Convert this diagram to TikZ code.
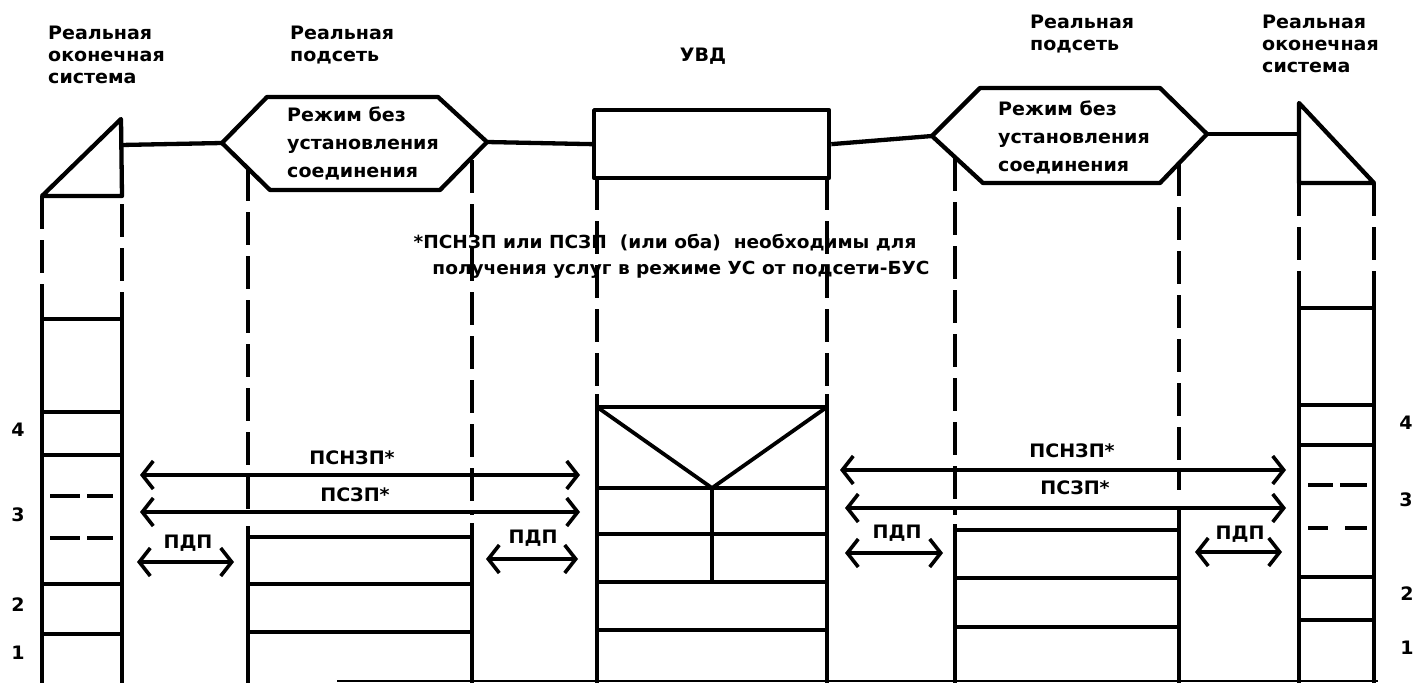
\documentclass[tikz,border=0pt]{standalone}
\usepackage{fontspec}
\setmainfont{DejaVu Sans Bold}[FakeStretch=1.03]
\usetikzlibrary{arrows.meta}
\begin{document}
\begin{tikzpicture}[x=1pt,y=-1pt,
  ln/.style={line width=4.3pt,line join=round},
  thin/.style={line width=3.8pt},
  dsh/.style={line width=4.4pt,dash pattern=on 33pt off 11pt},
  sdash/.style={line width=3.6pt},
  arr/.style={line width=3.6pt,{Straight Barb[length=11pt,width=28pt]}-{Straight Barb[length=11pt,width=28pt]}},
  lab/.style={font=\fontsize{18.5}{28}\selectfont,inner sep=0pt,align=left},
  fnote/.style={font=\fontsize{18}{22}\selectfont,inner sep=0pt,align=left},
  top/.style={font=\fontsize{18.5}{22}\selectfont,inner sep=0pt,align=left},
  num/.style={font=\fontsize{18.5}{20}\selectfont,inner sep=0pt}]
\useasboundingbox (0,0) rectangle (1421,683);

% ---------- top labels
\node[top,anchor=north west] (lbl1) at (48,26) {Реальная\\оконечная\\система};
\node[top,anchor=north west] (lbl2) at (290,26) {Реальная\\подсеть};
\node[top,anchor=center] (lbl3) at (703,56) {УВД};
\node[top,anchor=north west] (lbl4) at (1030,15) {Реальная\\подсеть};
\node[top,anchor=north west] (lbl5) at (1262,15) {Реальная\\оконечная\\система};

% ---------- left end system (triangle)
\coordinate (tlA) at (42,196);
\coordinate (tlT) at (121,119);
\coordinate (tlB) at (122,196);
\coordinate (tlM) at (121,145);
\draw[ln] (tlA) -- (tlT) -- (tlB) -- cycle;

% ---------- left subnet hexagon
\coordinate (h1L) at (222,143);
\coordinate (h1TL) at (267,97);
\coordinate (h1TR) at (438,97);
\coordinate (h1R) at (487,142);
\coordinate (h1BR) at (440,190);
\coordinate (h1BL) at (270,190);
\draw[ln] (h1L) -- (h1TL) -- (h1TR) -- (h1R) -- (h1BR) -- (h1BL) -- cycle;
\node[lab,anchor=north west] (hx1) at (287,107) {Режим без\\установления\\соединения};

% ---------- UVD box
\node[draw,ln,anchor=north west,minimum width=235pt,minimum height=68pt,inner sep=0pt] (uvd) at (592,108) {};

% ---------- right subnet hexagon
\coordinate (h2L) at (932,136);
\coordinate (h2TL) at (980,88);
\coordinate (h2TR) at (1160,88);
\coordinate (h2R) at (1207,134);
\coordinate (h2BR) at (1160,183);
\coordinate (h2BL) at (983,183);
\draw[ln] (h2L) -- (h2TL) -- (h2TR) -- (h2R) -- (h2BR) -- (h2BL) -- cycle;
\node[lab,anchor=north west] (hx2) at (998,101) {Режим без\\установления\\соединения};

% ---------- right end system (triangle)
\coordinate (trT) at (1299,103);
\coordinate (trA) at (1299,183);
\coordinate (trB) at (1374,183);
\coordinate (trM) at (1299,134);
\draw[ln] (trT) -- (trB) -- (trA) -- cycle;

% ---------- connecting lines
\draw[ln] (tlM) -- (h1L);
\draw[ln] (h1R) -- (uvd.west);
\draw[ln] (uvd.east) -- (h2L);
\draw[ln] (h2R) -- (trM);

% ---------- footnote
\node[fnote,anchor=center] (fn1) at (665,243) {*ПСНЗП или ПСЗП\ \ (или оба)\ \ необходимы для};
\node[fnote,anchor=center] (fn2) at (681,270) {получения услуг в режиме УС от подсети-БУС};

% ---------- left end-system stack
\draw[dsh] (42,196) -- (42,290);
\draw[ln] (42,288) -- (42,683);
\draw[dsh] (122,204) -- (122,293);
\draw[ln] (122,293) -- (122,683);
\foreach \yy in {319,412,455,584,634} \draw[thin] (42,\yy) -- (122,\yy);
\foreach \yy in {496,538} {\draw[sdash] (50,\yy) -- (80,\yy); \draw[sdash] (87,\yy) -- (113,\yy);}
\node[num] (n4l) at (18,430) {4};
\node[num] (n3l) at (18,515) {3};
\node[num] (n2l) at (18,605) {2};
\node[num] (n1l) at (18,653) {1};

% ---------- left subnet stack
\draw[dsh] (248,168) -- (248,515);
\draw[ln] (248,526) -- (248,683);
\draw[dsh] (472,160) -- (472,515);
\draw[ln] (472,523) -- (472,683);
\foreach \yy in {537,584,632} \draw[thin] (248,\yy) -- (472,\yy);

% ---------- UVD stack
\draw[dsh] (597,177) -- (597,398);
\draw[ln] (597,394) -- (597,683);
\draw[dsh] (827,177) -- (827,398);
\draw[ln] (827,394) -- (827,683);
\coordinate (vL) at (597,407);
\coordinate (vR) at (827,407);
\coordinate (vM) at (712,488);
\coordinate (vB) at (712,582);
\draw[thin] (vL) -- (vR);
\draw[thin] (vL) -- (vM) -- (vR);
\draw[thin] (vM) -- (vB);
\foreach \yy in {488,534,582,630} \draw[thin] (597,\yy) -- (827,\yy);

% ---------- right subnet stack
\draw[dsh] (955,158) -- (955,515);
\draw[ln] (955,524) -- (955,683);
\draw[dsh] (1179,163) -- (1179,490);
\draw[ln] (1179,506) -- (1179,683);
\foreach \yy in {530,578,627} \draw[thin] (955,\yy) -- (1179,\yy);

% ---------- right end-system stack
\draw[dsh] (1299,183) -- (1299,285);
\draw[ln] (1299,285) -- (1299,683);
\draw[dsh] (1374,183) -- (1374,300);
\draw[ln] (1374,300) -- (1374,683);
\foreach \yy in {308,405,445,577,620} \draw[thin] (1299,\yy) -- (1374,\yy);
\draw[sdash] (1308,485) -- (1333,485); \draw[sdash] (1340,485) -- (1367,485);
\draw[sdash] (1308,528) -- (1328,528); \draw[sdash] (1345,528) -- (1367,528);
\node[num] (n4r) at (1406,423) {4};
\node[num] (n3r) at (1406,500) {3};
\node[num] (n2r) at (1407,594) {2};
\node[num] (n1r) at (1407,648) {1};

% ---------- bottom line
\draw[line width=2.5pt] (337,681) -- (1378,681);

% ---------- arrows, left half
\coordinate (a1s) at (140,475); \coordinate (a1e) at (580,475);
\coordinate (a2s) at (140,512); \coordinate (a2e) at (580,512);
\coordinate (a3s) at (137,562); \coordinate (a3e) at (234,562);
\coordinate (a4s) at (486,559); \coordinate (a4e) at (578,559);
\draw[arr] (a1s) -- (a1e);
\draw[arr] (a2s) -- (a2e);
\draw[arr] (a3s) -- (a3e);
\draw[arr] (a4s) -- (a4e);
\node[lab] (t1) at (352,458) {ПСНЗП*};
\node[lab] (t2) at (355,495) {ПСЗП*};
\node[lab] (t3) at (188,543) {ПДП};
\node[lab] (t4) at (533,538) {ПДП};

% ---------- arrows, right half
\coordinate (b1s) at (840,470); \coordinate (b1e) at (1286,470);
\coordinate (b2s) at (845,508); \coordinate (b2e) at (1286,508);
\coordinate (b3s) at (845,553); \coordinate (b3e) at (943,553);
\coordinate (b4s) at (1195,552); \coordinate (b4e) at (1282,552);
\draw[arr] (b1s) -- (b1e);
\draw[arr] (b2s) -- (b2e);
\draw[arr] (b3s) -- (b3e);
\draw[arr] (b4s) -- (b4e);
\node[lab] (u1) at (1072,451) {ПСНЗП*};
\node[lab] (u2) at (1075,488) {ПСЗП*};
\node[lab] (u3) at (897,533) {ПДП};
\node[lab] (u4) at (1240,534) {ПДП};
\end{tikzpicture}
\end{document}
